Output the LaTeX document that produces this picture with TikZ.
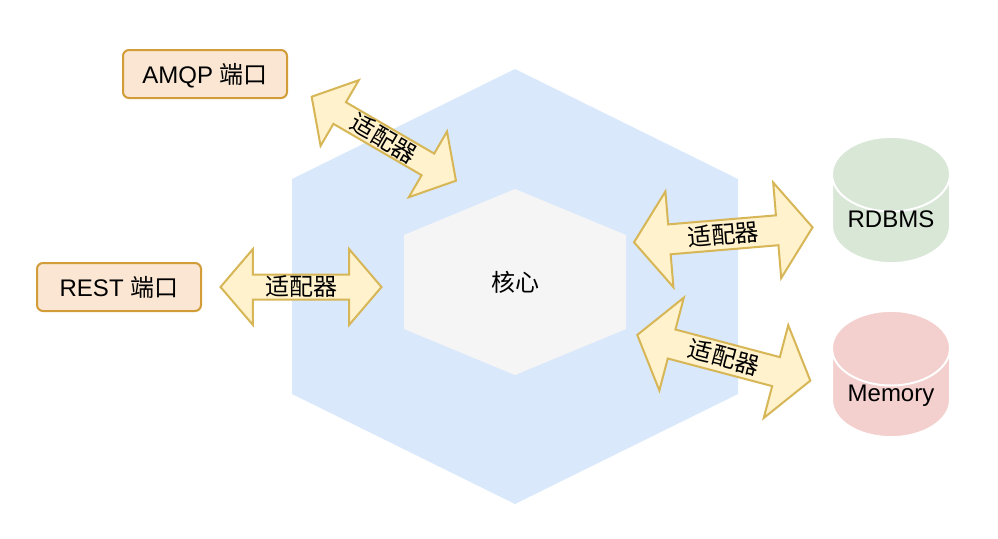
\documentclass[tikz,border=0pt]{standalone}
\usepackage{fontspec}
\setmainfont{Liberation Sans}
\newfontfamily\cjk{Noto Sans CJK SC}
\usetikzlibrary{shapes.arrows,shapes.geometric,positioning}
\definecolor{outerfill}{HTML}{DAE8FC}
\definecolor{innerfill}{HTML}{F5F5F5}
\definecolor{portfill}{HTML}{FAE6D2}
\definecolor{portline}{HTML}{D29C38}
\definecolor{adapterfill}{HTML}{FFF2CC}
\definecolor{adapterline}{HTML}{D6B656}
\definecolor{rdbmsfill}{HTML}{D9E7D7}
\definecolor{memoryfill}{HTML}{F3CFCD}
\newcommand{\storelabel}[1]{\raisebox{4.5pt}[8.6pt][0pt]{#1}}
\begin{document}
\begin{tikzpicture}[x=0.5pt,y=-0.5pt,node distance=87pt,
		label12/.style={font=\fontsize{12}{14}\selectfont},
		port/.style={draw=portline, fill=portfill, line width=1pt, rectangle, rounded corners=3pt, text centered, minimum width=82pt, minimum height=24pt, text height=9.6pt, text depth=0pt, outer sep=0pt, label12},
		store/.style={cylinder, shape border rotate=90, aspect=0.746, draw=white, fill=#1, line width=1pt, text centered, minimum width=59pt, minimum height=62pt, outer sep=0pt, label12},
		adapter/.style={double arrow, draw=adapterline, fill=adapterfill, line width=1pt, inner xsep=0pt, text height=10pt, text depth=1.5pt, outer sep=0pt, font=\fontsize{12}{14}\selectfont\cjk},
		adapter thin/.style={adapter, inner ysep=0pt, double arrow head extend=12.75pt, double arrow tip angle=99},
		adapter wide/.style={adapter, inner ysep=1.25pt, double arrow head extend=16.5pt, double arrow tip angle=107}]
		\useasboundingbox (0,0) rectangle (998,538);

		% hexagons
		\fill[outerfill] (515,69) -- (738,179) -- (738,394) -- (515,504) -- (292,394) -- (292,179) -- cycle;
		\fill[innerfill] (515,189) -- (626,235) -- (626,329) -- (515,375) -- (404,329) -- (404,235) -- cycle;
		\node (core) [label12] at (515,282) {\cjk 核心};

		\node (amqp) [port] at (205,74) {AMQP {\cjk 端口}};
		\node (rest) [port] at (119,287) {REST {\cjk 端口}};

		\node (rdbms) [store=rdbmsfill, anchor=shape center] at (891,200) {\storelabel{RDBMS}};
		\node (memory) [store=memoryfill, anchor=shape center] at (891,374) {\storelabel{Memory}};

		\node (amqpadapter) [adapter thin, minimum height=83.5pt, rotate=-30.2] at (383.8,138.7) {适配器};
		\node (restadapter) [adapter thin, minimum height=80.5pt] at (301,287) {适配器};
		\node (rdbmsadapter) [adapter wide, minimum height=89.6pt, rotate=4.8] at (723.3,234.8) {适配器};
		\node (memoryadapter) [adapter wide, minimum height=89.5pt, rotate=-14.8] at (723.8,357.8) {适配器};
	\end{tikzpicture}
\end{document}
